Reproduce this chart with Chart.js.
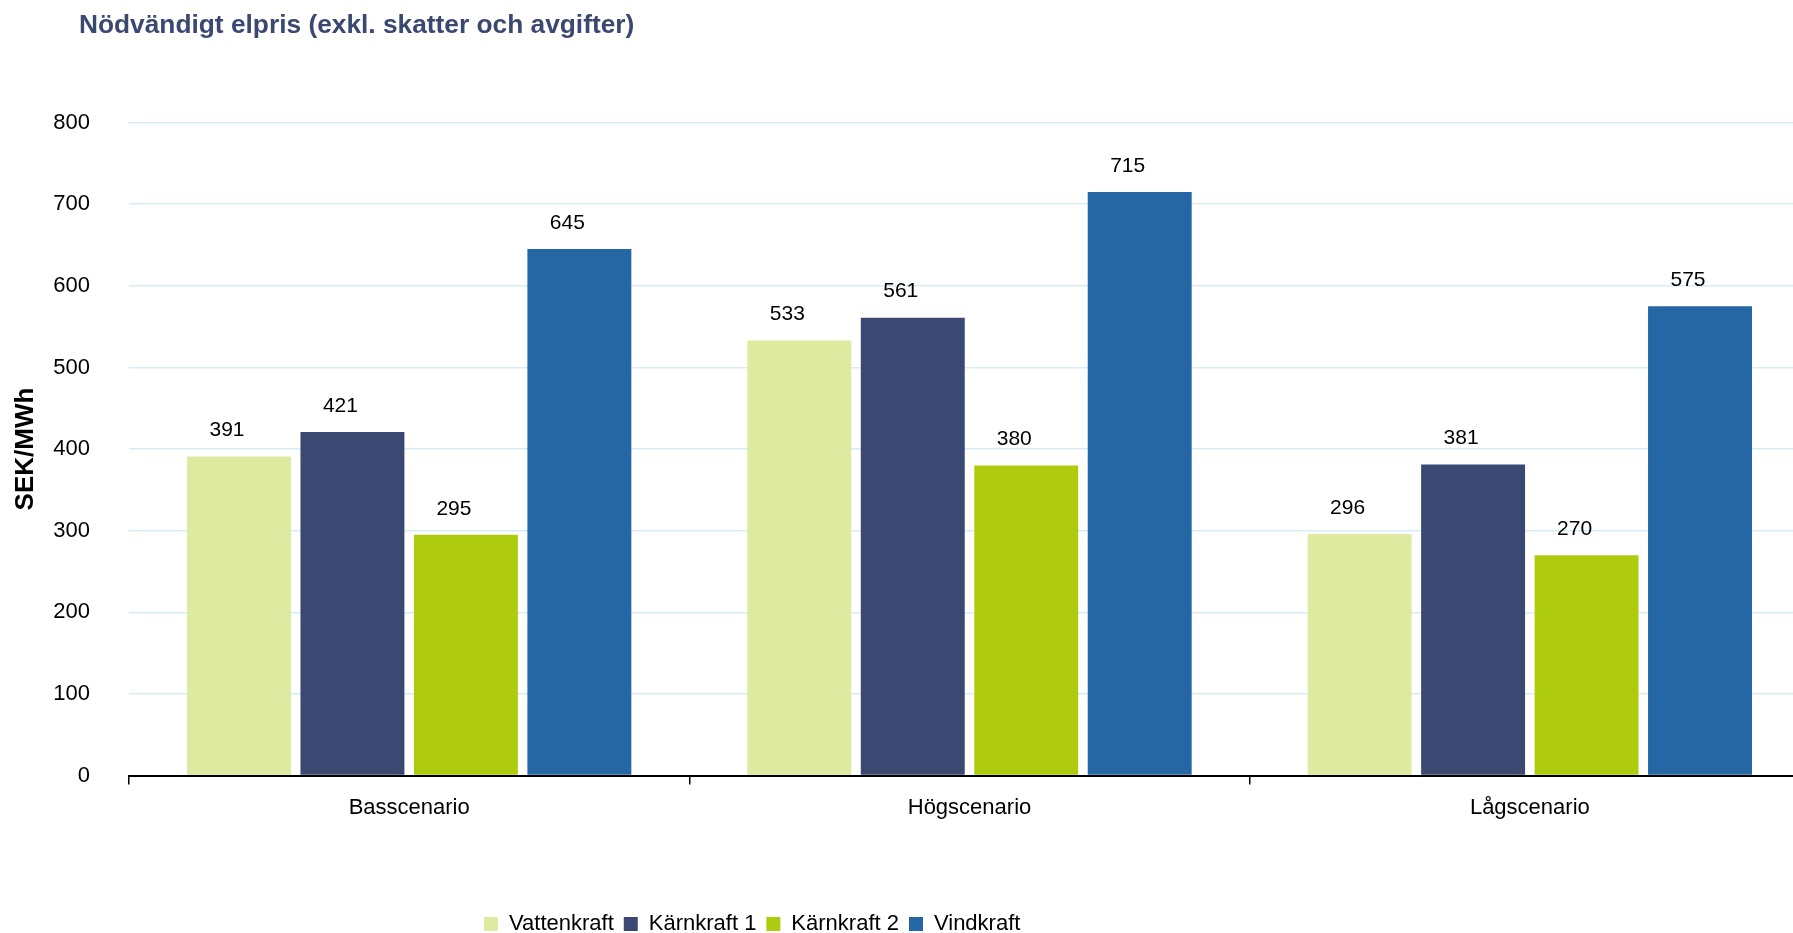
<!DOCTYPE html>
<html>
<head>
<meta charset="utf-8">
<script src="https://cdn.jsdelivr.net/npm/chart.js@4.4.1/dist/chart.umd.min.js"></script>
<style>
  html, body { margin: 0; padding: 0; background: #fff; overflow: hidden; }
  #wrap { width: 1812px; height: 933px; }
</style>
</head>
<body>
<div id="wrap"><canvas id="elpris"></canvas></div>
<script>
// Nödvändigt elpris per scenario
const scenarios = ['Basscenario', 'Högscenario', 'Lågscenario'];
const seriesNames = ['Vattenkraft', 'Kärnkraft 1', 'Kärnkraft 2', 'Vindkraft'];
const vattenkraft = [391, 533, 296];
const karnkraft1 = [421, 561, 381];
const karnkraft2 = [295, 380, 270];
const vindkraft = [645, 715, 575];

const colors = ['#DEEA9F', '#3B4871', '#AECB0E', '#2566A5'];
const fontFamily = "'Liberation Sans', Arial, sans-serif";

const seriesValues = [vattenkraft, karnkraft1, karnkraft2, vindkraft];

const data = {
  labels: scenarios,
  datasets: seriesNames.map(function(name, i) {
    return {
      label: name,
      data: seriesValues[i],
      backgroundColor: colors[i],
      borderWidth: 0,
      categoryPercentage: 0.81,
      barPercentage: 0.916
    };
  })
};

// values above the bars
const valueLabels = {
  id: 'valueLabels',
  afterDatasetsDraw(chart) {
    const ctx = chart.ctx;
    ctx.save();
    ctx.font = '21px ' + fontFamily;
    ctx.fillStyle = '#000';
    ctx.textAlign = 'center';
    ctx.textBaseline = 'middle';
    chart.data.datasets.forEach(function(ds, i) {
      chart.getDatasetMeta(i).data.forEach(function(bar, j) {
        ctx.fillText(ds.data[j], bar.x - 12, bar.y - 26);
      });
    });
    ctx.restore();
  }
};

// title sits a bit right of the axis title, legend is off-centre
const placeBoxes = {
  id: 'placeBoxes',
  afterLayout(chart) {
    chart.titleBlock.left = 79;
    const lg = chart.legend;
    const h = lg.bottom - lg.top;
    lg.left = 474;
    lg.top = 903;
    lg.bottom = 903 + h;
  }
};

const options = {
  responsive: true,
  maintainAspectRatio: false,
  animation: false,
  layout: {
    padding: { left: 6, right: 2, top: 0, bottom: 60 }
  },
  scales: {
    x: {
      grid: {
        drawOnChartArea: false,
        drawTicks: true,
        tickLength: 9,
        color: '#000',
        lineWidth: 1.5
      },
      border: { color: '#000', width: 2 },
      ticks: {
        color: '#000',
        padding: 10,
        font: { family: fontFamily, size: 22 }
      }
    },
    y: {
      min: 0,
      max: 800,
      // fixed axis width so the plot starts where the reference does
      afterFit(scale) {
        scale.width = 123;
      },
      ticks: {
        stepSize: 100,
        color: '#000',
        padding: 39,
        font: { family: fontFamily, size: 22 }
      },
      grid: {
        color: '#D7ECF6',
        lineWidth: 1.5,
        drawTicks: false
      },
      border: { display: false },
      title: {
        display: true,
        text: 'SEK/MWh',
        color: '#000',
        padding: { top: 4, bottom: 10 },
        font: { family: fontFamily, size: 26, weight: 'bold' }
      }
    }
  },
  plugins: {
    title: {
      display: true,
      text: 'Nödvändigt elpris (exkl. skatter och avgifter)',
      align: 'start',
      color: '#3B4871',
      padding: { top: 10, bottom: 81 },
      font: { family: fontFamily, size: 26.3, weight: 'bold' }
    },
    legend: {
      position: 'bottom',
      align: 'start',
      labels: {
        boxWidth: 14,
        boxHeight: 14,
        padding: 10,
        color: '#000',
        font: { family: fontFamily, size: 22 }
      }
    },
    tooltip: { enabled: false }
  }
};

const ctx = document.getElementById('elpris').getContext('2d');
const elprisChart = new Chart(ctx, {
  type: 'bar',
  data: data,
  options: options,
  plugins: [valueLabels, placeBoxes]
});
</script>
</body>
</html>
